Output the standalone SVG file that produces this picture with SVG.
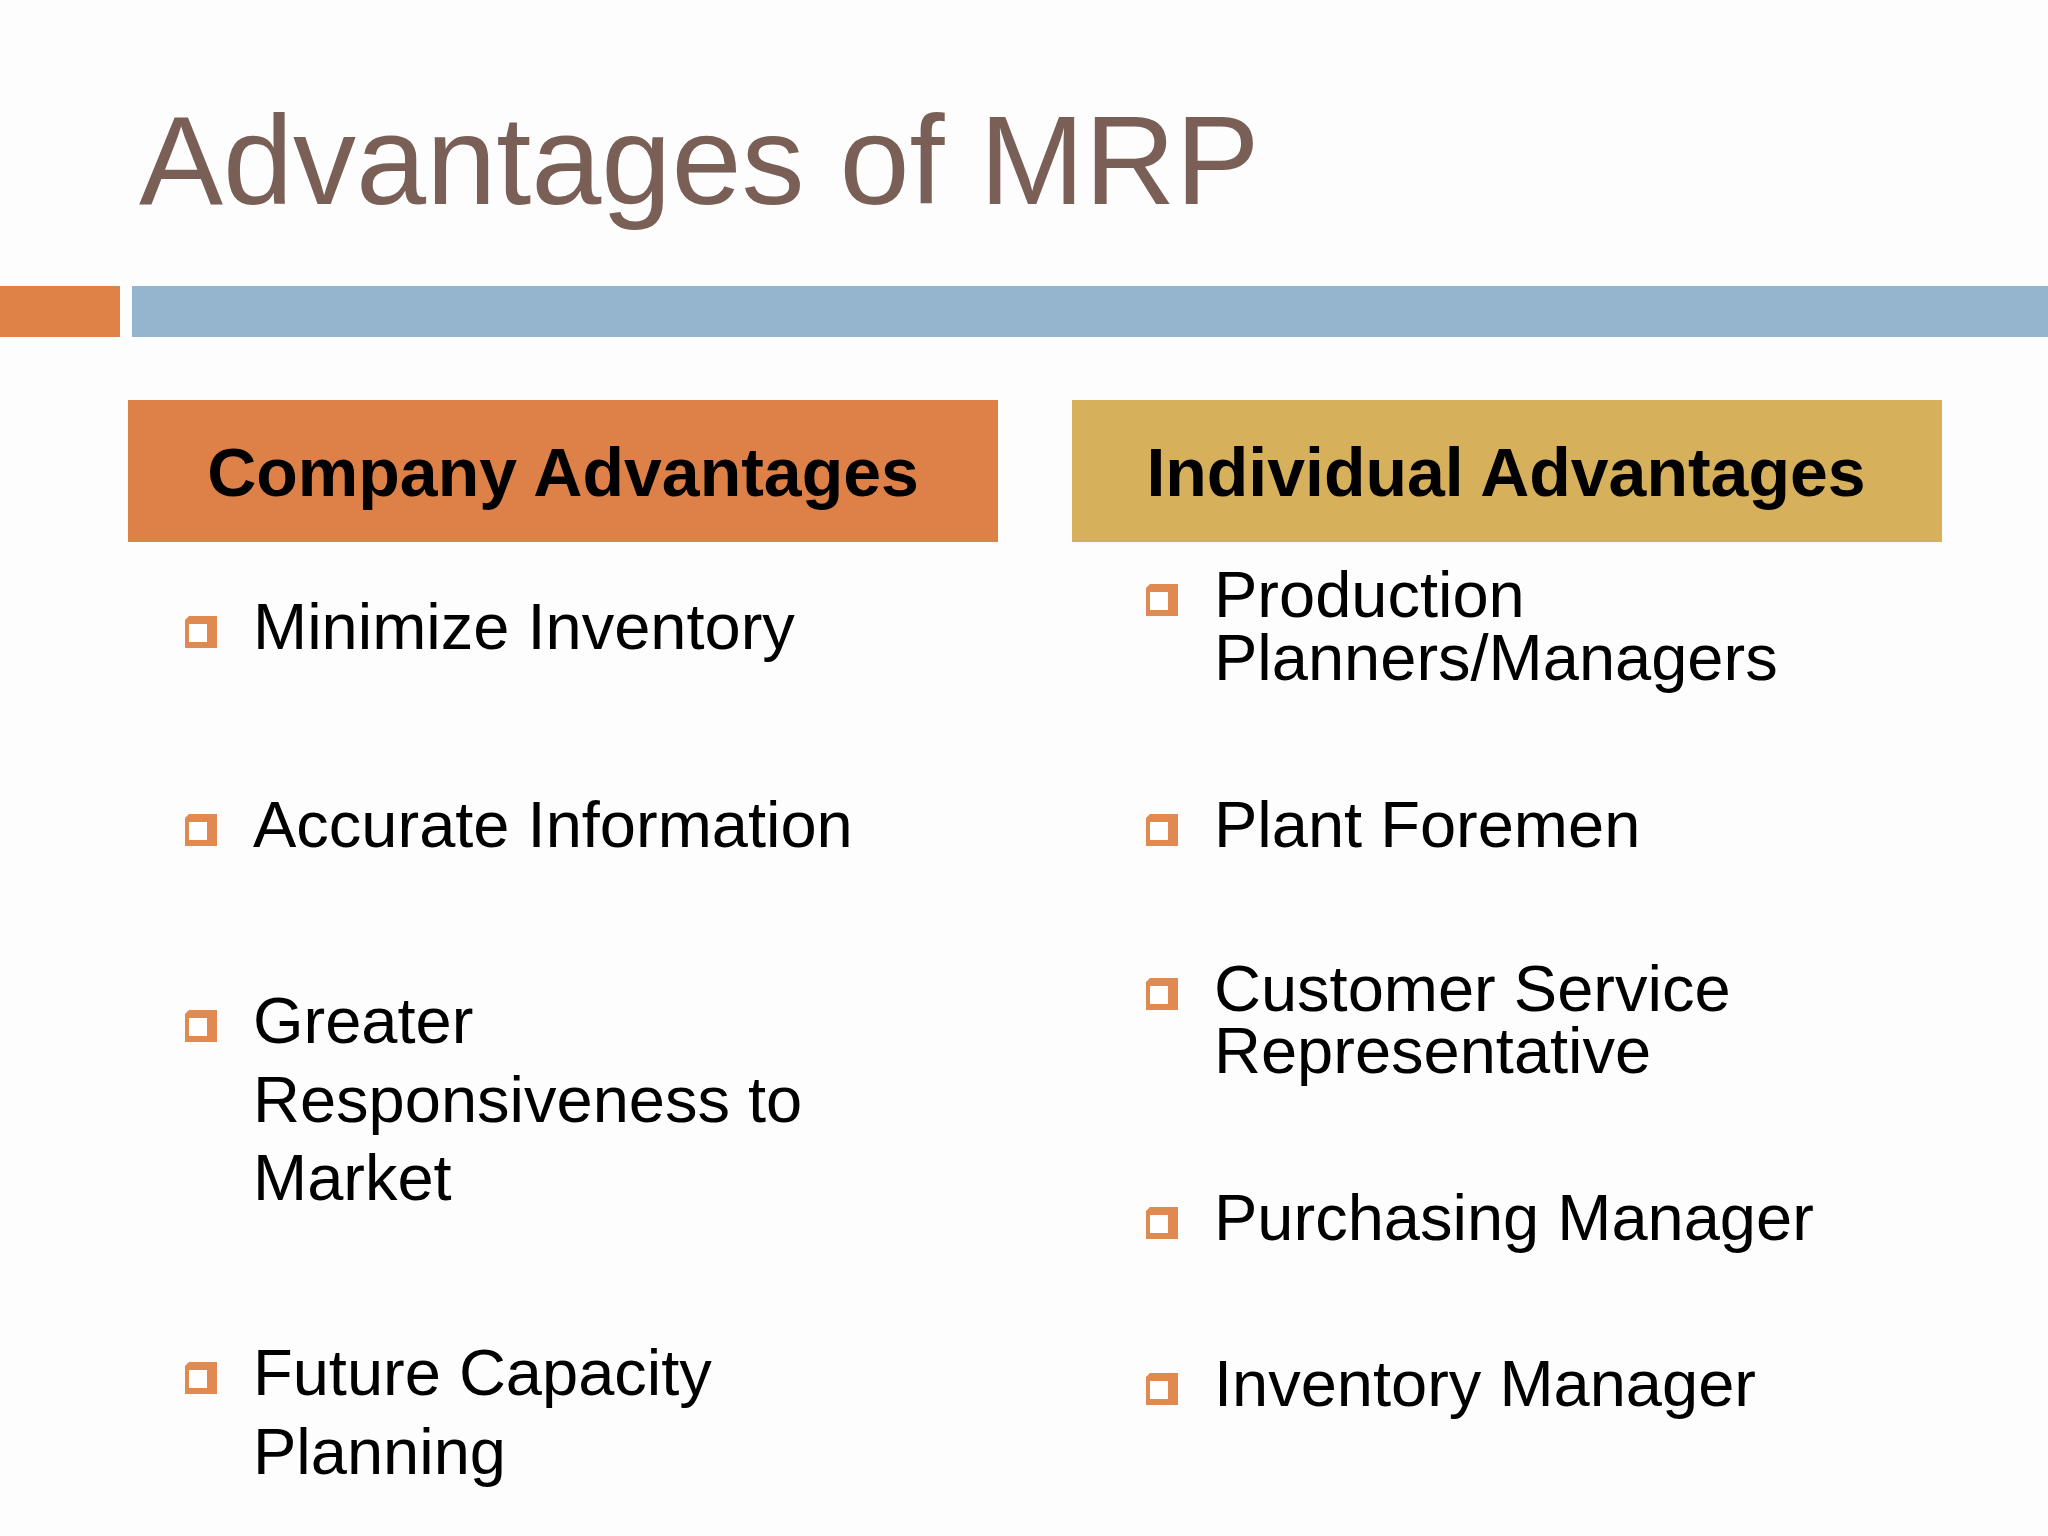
<svg xmlns="http://www.w3.org/2000/svg" width="2048" height="1536" viewBox="0 0 2048 1536">
<defs>
<style>
.t{font-family:"Liberation Sans",Arial,sans-serif;font-size:65px;fill:#000}
.h{font-family:"Liberation Sans",Arial,sans-serif;font-size:68px;font-weight:bold;fill:#000;text-anchor:middle}
</style>
<g id="bul">
<path d="M4,-4 H32 V28 H0 V0 Z" fill="#e08a52"/>
<rect x="0" y="0" width="26" height="26" fill="#e08a52"/>
<rect x="4" y="4" width="18" height="18" fill="#fff"/>
</g>
</defs>
<rect width="2048" height="1536" fill="#fdfdfd"/>
<text x="139" y="204" font-family="'Liberation Sans',Arial,sans-serif" font-size="126" fill="#7a5f56">Advantages of MRP</text>
<rect x="0" y="286" width="120" height="51" fill="#de8248"/>
<rect x="132" y="286" width="1916" height="51" fill="#95b4cd"/>
<g id="company">
<rect x="128" y="400" width="870" height="142" fill="#de8149"/>
<text class="h" x="563" y="496">Company Advantages</text>
</g>
<g id="individual">
<rect x="1072" y="400" width="870" height="142" fill="#d7b05c"/>
<text class="h" x="1506" y="496">Individual Advantages</text>
</g>
<g id="left">
<use href="#bul" x="185" y="620"/><text class="t" x="253" y="649">Minimize Inventory</text>
<use href="#bul" x="185" y="818"/><text class="t" x="253" y="847">Accurate Information</text>
<use href="#bul" x="185" y="1014"/><text class="t" x="253" y="1043">Greater</text>
<text class="t" x="253" y="1122">Responsiveness to</text>
<text class="t" x="253" y="1200">Market</text>
<use href="#bul" x="185" y="1366"/><text class="t" x="253" y="1395">Future Capacity</text>
<text class="t" x="253" y="1474">Planning</text>
</g>
<g id="right">
<use href="#bul" x="1146" y="588"/><text class="t" x="1214" y="617">Production</text>
<text class="t" x="1214" y="680">Planners/Managers</text>
<use href="#bul" x="1146" y="818"/><text class="t" x="1214" y="847">Plant Foremen</text>
<use href="#bul" x="1146" y="982"/><text class="t" x="1214" y="1011">Customer Service</text>
<text class="t" x="1214" y="1073">Representative</text>
<use href="#bul" x="1146" y="1211"/><text class="t" x="1214" y="1240">Purchasing Manager</text>
<use href="#bul" x="1146" y="1377"/><text class="t" x="1214" y="1406">Inventory Manager</text>
</g>
</svg>
